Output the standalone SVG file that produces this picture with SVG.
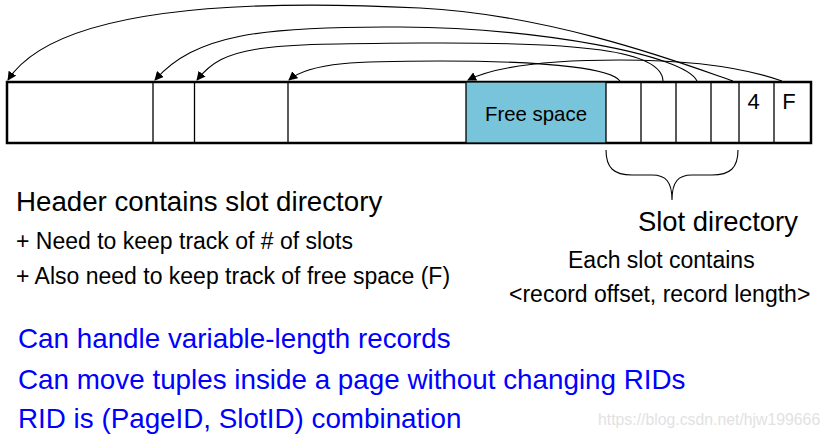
<svg xmlns="http://www.w3.org/2000/svg" width="831" height="438" viewBox="0 0 831 438">
<defs>
<style>
text{font-family:"Liberation Sans",Arial,sans-serif;fill:#000}
.blue{fill:#0000FF;font-size:27.8px}
.arc{fill:none;stroke:#000;stroke-width:1.1;marker-end:url(#ah)}
.cell{stroke:#000;stroke-width:1.3}
</style>
<marker id="ah" viewBox="0 0 10 10" refX="9" refY="5" markerWidth="9" markerHeight="9" markerUnits="userSpaceOnUse" orient="auto">
<path d="M0,0 L10,5 L0,10 z" fill="#000"/>
</marker>
</defs>
<rect width="831" height="438" fill="#fff"/>
<g id="page">
<rect x="7" y="82" width="804" height="61" fill="#fff" stroke="#000" stroke-width="2.5"/>
<rect x="466" y="82" width="140" height="61" fill="#78C5DB" stroke="#000" stroke-width="1.3"/>
<line class="cell" x1="153" y1="82" x2="153" y2="143"/>
<line class="cell" x1="194.5" y1="82" x2="194.5" y2="143"/>
<line class="cell" x1="288" y1="82" x2="288" y2="143"/>
<line class="cell" x1="641" y1="82" x2="641" y2="143"/>
<line class="cell" x1="676" y1="82" x2="676" y2="143"/>
<line class="cell" x1="711" y1="82" x2="711" y2="143"/>
<line class="cell" x1="739" y1="82" x2="739" y2="143"/>
<line class="cell" x1="774" y1="82" x2="774" y2="143"/>
<text x="536" y="120.5" font-size="20.4" text-anchor="middle">Free space</text>
<text x="753.5" y="109" font-size="22" text-anchor="middle">4</text>
<text x="789" y="109" font-size="22" text-anchor="middle">F</text>
</g>
<g id="connectors">
<path class="arc" d="M733,81 C700,70 560,15 420,8 C280,1 60,0 8,80"/>
<path class="arc" d="M697,81 C685,55 540,28 400,27 C260,26 195,35 155,80"/>
<path class="arc" d="M663,81 C662,50 580,42 420,43 C260,44 225,45 197,80"/>
<path class="arc" d="M620,81 C612,70 560,61 440,61 C360,61 310,62 289,80"/>
<path class="arc" d="M782,81 C745,68 690,60 620,60 C560,60 500,64 468,80"/>
</g>
<g id="brace">
<path d="M606,150 C606,168 614,175 632,175 L652,175 C666,175 672,182 672,200 C672,182 678,175 692,175 L712,175 C730,175 738,168 738,150" fill="none" stroke="#000" stroke-width="1.1"/>
</g>
<g id="labels">
<text x="16" y="211" font-size="27.7">Header contains slot directory</text>
<text x="16" y="249" font-size="23">+ Need to keep track of # of slots</text>
<text x="16" y="284" font-size="23">+ Also need to keep track of free space (F)</text>
<text x="638" y="231" font-size="27.4">Slot directory</text>
<text x="568" y="268" font-size="23">Each slot contains</text>
<text x="509" y="302" font-size="23">&lt;record offset, record length&gt;</text>
<text class="blue" x="18" y="348">Can handle variable-length records</text>
<text class="blue" x="18" y="389">Can move tuples inside a page without changing RIDs</text>
<text class="blue" x="18" y="428">RID is (PageID, SlotID) combination</text>
<text x="598" y="425" font-size="15.8" style="fill:#e2e2e2">https://blog.csdn.net/hjw199666</text>
</g>
</svg>
